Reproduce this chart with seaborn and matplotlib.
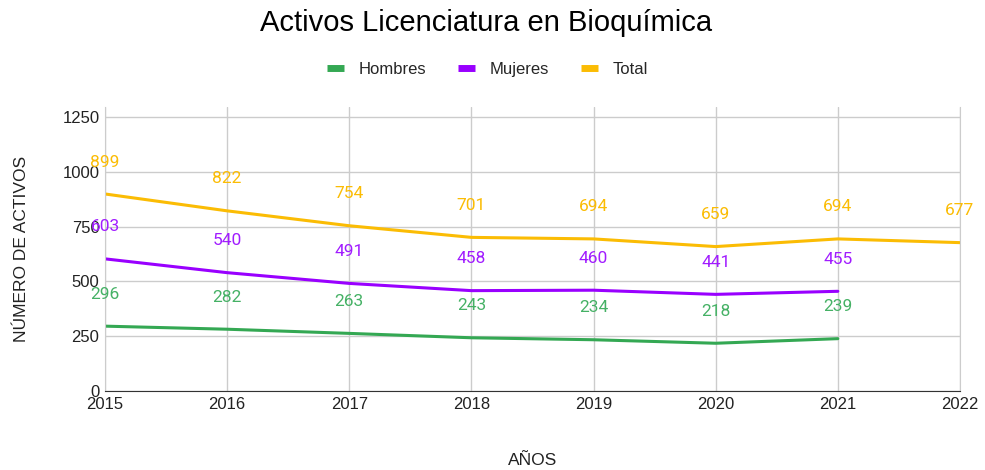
import numpy as np
import pandas as pd
import matplotlib.pyplot as plt
import seaborn as sns

# data
years = [2015, 2016, 2017, 2018, 2019, 2020, 2021, 2022]
hombres = [296, 282, 263, 243, 234, 218, 239, np.nan]
mujeres = [603, 540, 491, 458, 460, 441, 455, np.nan]
total = [899, 822, 754, 701, 694, 659, 694, 677]

series = ['Hombres', 'Mujeres', 'Total']
line_colors = {'Hombres': '#34a853', 'Mujeres': '#9900ff', 'Total': '#fbbc04'}
label_colors = {'Hombres': '#45b165', 'Mujeres': '#a11cff', 'Total': '#fbbc04'}

df = pd.DataFrame({'Año': years, 'Hombres': hombres, 'Mujeres': mujeres, 'Total': total})
long_df = df.melt(id_vars='Año', var_name='Serie', value_name='Activos').dropna()

sns.set_style('white')
plt.rcParams['font.family'] = ['Liberation Sans', 'DejaVu Sans']

fig = plt.figure(figsize=(9.85, 4.7), dpi=100)
ax = fig.add_axes([0.1066, 0.168, 0.868, 0.604])

sns.lineplot(data=long_df, x='Año', y='Activos', hue='Serie', hue_order=series,
             palette=line_colors, linewidth=2.2, ax=ax, legend=False)

# value labels above each point
for s in series:
    sub = long_df[long_df['Serie'] == s]
    for x, y in zip(sub['Año'], sub['Activos']):
        ax.annotate(f'{int(y)}', (x, y), xytext=(0, 23), textcoords='offset points',
                    ha='center', va='center', fontsize=12.5, color=label_colors[s],
                    family=['Roboto', 'DejaVu Sans'])

ax.set_xlim(2015, 2022)
ax.set_ylim(0, 1295)
ax.set_xticks(years)
ax.set_yticks([0, 250, 500, 750, 1000, 1250])
ax.grid(True, color='#cccccc', linewidth=1)
ax.set_axisbelow(True)
ax.spines['top'].set_visible(False)
ax.spines['right'].set_color('#cccccc')
ax.spines['left'].set_color('#cccccc')
ax.spines['bottom'].set_color('#333333')
ax.tick_params(axis='both', labelsize=12, colors='#222222', length=0, pad=4)

ax.set_xlabel('AÑOS', fontsize=12.5, color='#222222', labelpad=30)
ax.set_ylabel('NÚMERO DE ACTIVOS', fontsize=12.5, color='#222222', labelpad=24)

fig.text(0.493, 0.951, 'Activos Licenciatura en Bioquímica', ha='center', va='center',
         fontsize=21, color='#000000')

handles = [plt.Line2D([0], [0], color=line_colors[s], linewidth=5, solid_capstyle='butt')
           for s in series]
fig.legend(handles, series, loc='center', bbox_to_anchor=(0.495, 0.853), ncol=3,
           frameon=False, fontsize=12, handlelength=1.0, columnspacing=1.9, handletextpad=0.9)

fig.savefig('out.png', dpi=100)
